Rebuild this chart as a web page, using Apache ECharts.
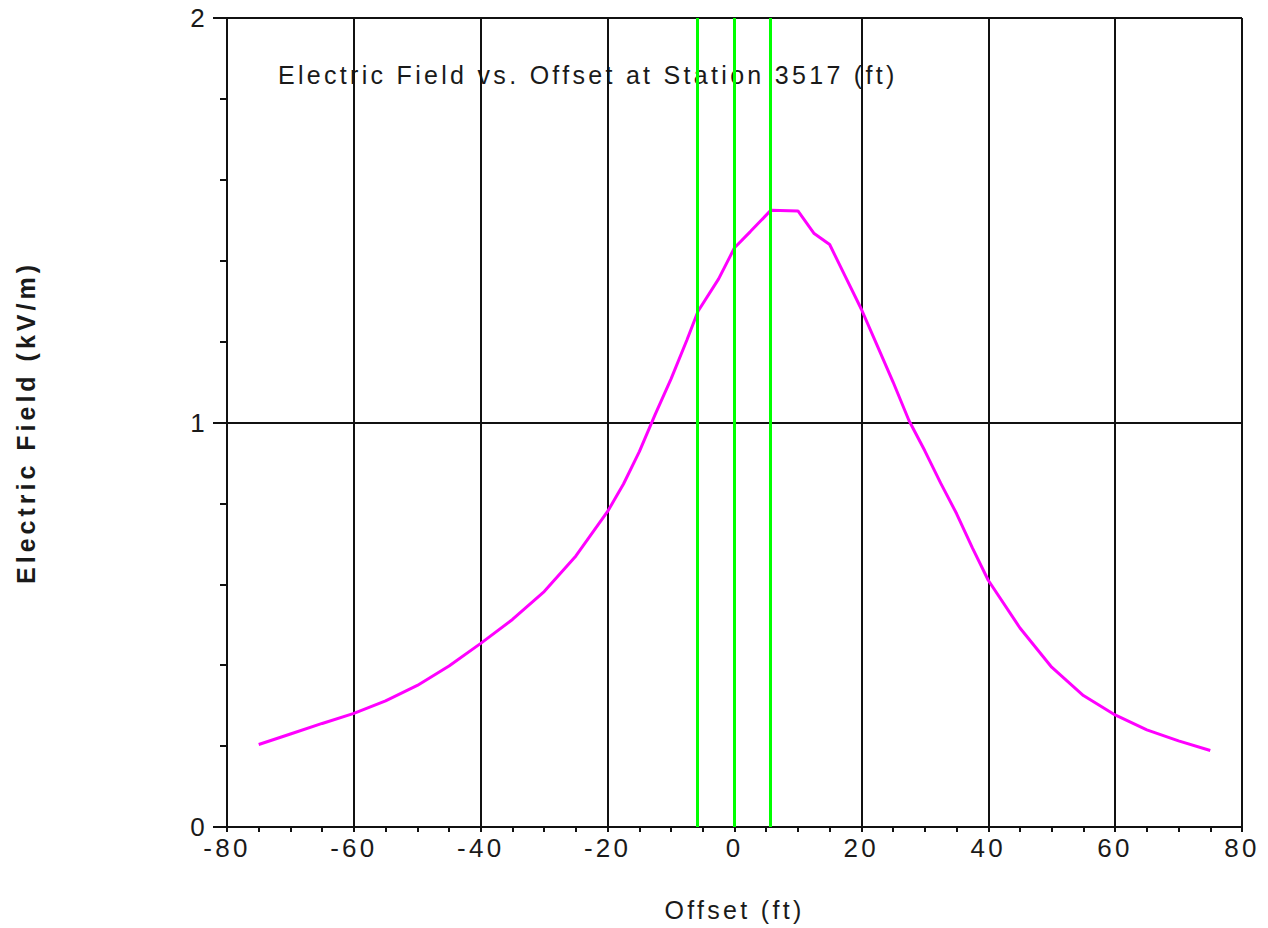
<!DOCTYPE html>
<html>
<head>
<meta charset="utf-8">
<script src="https://cdn.jsdelivr.net/npm/echarts@6/dist/echarts.min.js"></script>
<style>
html,body{margin:0;padding:0;background:#fff;}
#chart{width:1268px;height:928px;}
#chart svg text{letter-spacing:3.3px;}
#chart svg text[style*="bold"]{letter-spacing:4px;}
</style>
</head>
<body>
<div id="chart"></div>
<script>
// Offsets (ft) and electric field (kV/m)
const offsets = [-75, -70, -65, -60, -55, -50, -45, -40, -35, -30, -25, -20, -17.5, -15, -12.5, -10, -7.5, -5.75, -2.5, 0, 2.5, 5.75, 10, 12.5, 15, 17.5, 20, 22.5, 25, 27.5, 30, 32.5, 35, 37.5, 40, 45, 50, 55, 60, 65, 70, 75];
const field   = [0.204, 0.230, 0.256, 0.281, 0.312, 0.350, 0.398, 0.454, 0.513, 0.582, 0.670, 0.780, 0.848, 0.928, 1.020, 1.108, 1.204, 1.275, 1.355, 1.432, 1.472, 1.525, 1.523, 1.468, 1.440, 1.360, 1.280, 1.190, 1.100, 1.005, 0.930, 0.850, 0.775, 0.690, 0.610, 0.492, 0.395, 0.325, 0.277, 0.240, 0.213, 0.189];
// Conductor / reference positions (green vertical lines)
const markerOffsets = [-5.8, 0, 5.6];
const titleText = 'Electric Field vs. Offset at Station 3517 (ft)';
const xName = 'Offset (ft)';
const yName = 'Electric Field (kV/m)';

const chart = echarts.init(document.getElementById('chart'), null, {renderer: 'svg'});
const FONT = 'Liberation Sans';
chart.setOption({
  animation: false,
  backgroundColor: '#fff',
  title: {
    text: titleText,
    left: 273, top: 57, z: 0,
    textStyle: {fontFamily: FONT, fontSize: 25, fontWeight: 'normal', color: '#1a1a1a'}
  },
  grid: {left: 227, right: 26, top: 18, bottom: 101, containLabel: false},
  xAxis: {
    type: 'value', min: -80, max: 80, interval: 20, z: 1,
    name: xName, nameLocation: 'middle', nameGap: 70,
    nameTextStyle: {fontFamily: FONT, fontSize: 25, color: '#1a1a1a'},
    axisLine: {show: true, onZero: false, lineStyle: {color: '#111', width: 2}},
    axisTick: {show: true, length: 5, lineStyle: {color: '#111', width: 2}},
    minorTick: {show: true, splitNumber: 4, length: 5, lineStyle: {color: '#111', width: 2}},
    axisLabel: {fontFamily: FONT, fontSize: 26, color: '#1a1a1a', margin: 8},
    splitLine: {show: true, lineStyle: {color: '#111', width: 2}}
  },
  yAxis: {
    type: 'value', min: 0, max: 2, interval: 1, z: 1,
    name: yName, nameLocation: 'middle', nameGap: 189, nameRotate: 90,
    nameTextStyle: {fontFamily: FONT, fontSize: 25, fontWeight: 'bold', color: '#1a1a1a'},
    axisLine: {show: true, onZero: false, lineStyle: {color: '#111', width: 2}},
    axisTick: {show: true, length: 14, lineStyle: {color: '#111', width: 2}},
    minorTick: {show: true, splitNumber: 5, length: 7, lineStyle: {color: '#111', width: 2}},
    axisLabel: {fontFamily: FONT, fontSize: 26, color: '#1a1a1a', margin: 19},
    splitLine: {show: true, lineStyle: {color: '#111', width: 2}}
  },
  series: [
    {
      type: 'line', z: 3,
      data: offsets.map((x, i) => [x, field[i]]),
      showSymbol: false, symbol: 'none',
      lineStyle: {color: '#ff00ff', width: 3},
      markLine: {
        silent: true, symbol: 'none', z: 4,
        label: {show: false},
        lineStyle: {color: '#00ff00', width: 3, type: 'solid'},
        data: markerOffsets.map(v => ({xAxis: v}))
      }
    }
  ]
});
</script>
</body>
</html>
